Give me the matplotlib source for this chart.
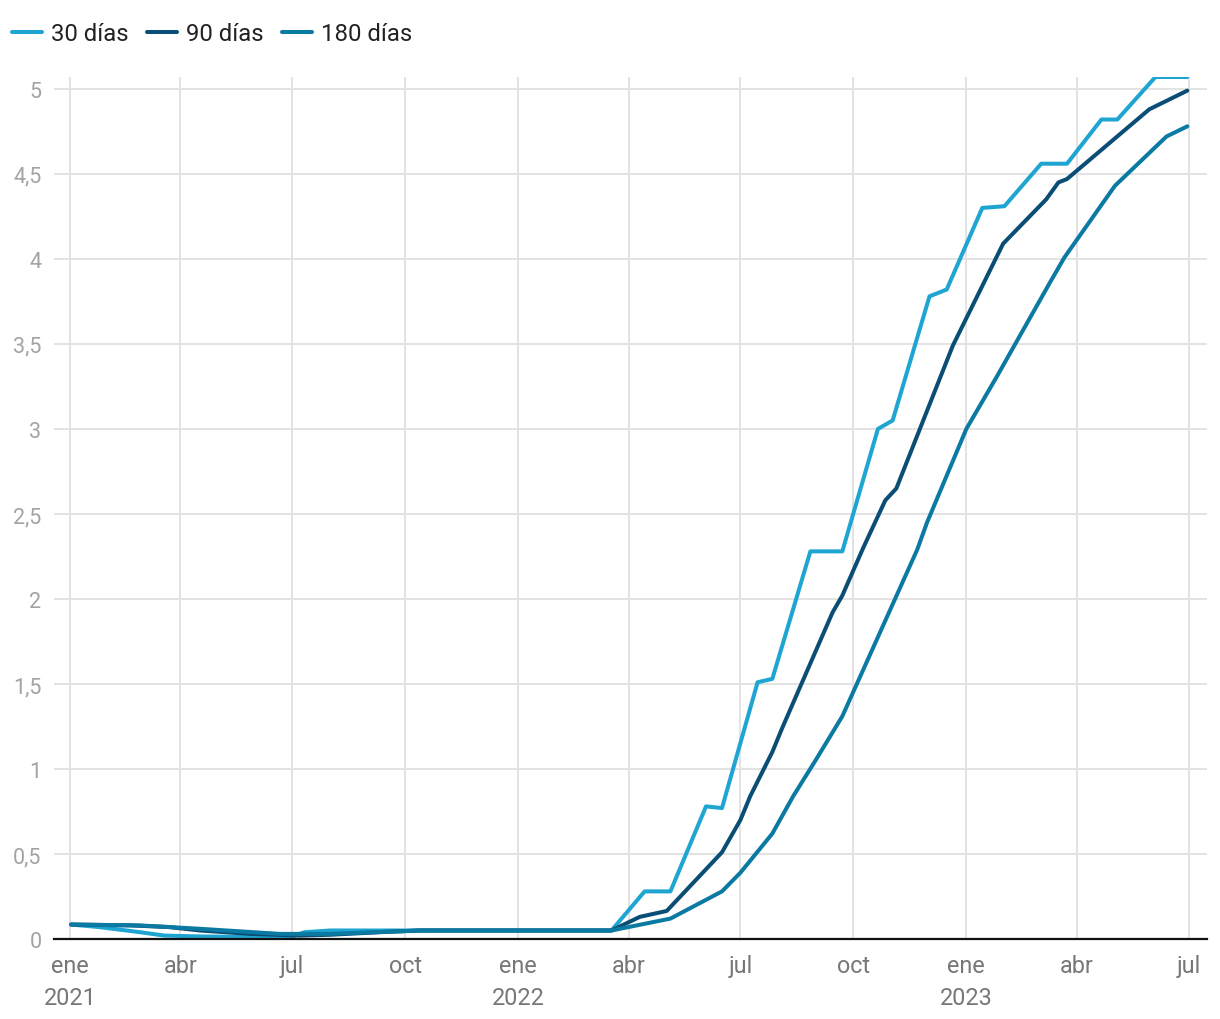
import pandas as pd
import matplotlib
matplotlib.use('Agg')
import matplotlib.pyplot as plt
from matplotlib.ticker import FuncFormatter

plt.rcParams['font.family'] = ['Roboto', 'DejaVu Sans']

# knots (date, %)
d30 = ['2021-01-02', '2021-01-25', '2021-02-27', '2021-03-19', '2021-04-17', '2021-06-29',
       '2021-07-11', '2021-08-01', '2022-03-18', '2022-04-14', '2022-05-05', '2022-06-03',
       '2022-06-16', '2022-07-15', '2022-07-27', '2022-08-27', '2022-09-22', '2022-10-21',
       '2022-11-02', '2022-12-02', '2022-12-16', '2023-01-14', '2023-02-01', '2023-03-03',
       '2023-03-24', '2023-04-21', '2023-05-04', '2023-06-04', '2023-06-30']
v30 = [0.085, 0.07, 0.04, 0.02, 0.015, 0.01,
       0.04, 0.05, 0.05, 0.28, 0.28, 0.78,
       0.77, 1.51, 1.53, 2.28, 2.28, 3.0,
       3.05, 3.78, 3.82, 4.30, 4.31, 4.56,
       4.56, 4.82, 4.82, 5.07, 5.07]

d90 = ['2021-01-02', '2021-02-19', '2021-03-23', '2021-04-17', '2021-05-28', '2021-07-07',
       '2021-08-01', '2021-09-10', '2021-10-13', '2022-03-18', '2022-04-10', '2022-05-02',
       '2022-06-16', '2022-07-01', '2022-07-09', '2022-07-27', '2022-08-04', '2022-09-14',
       '2022-09-22', '2022-10-09', '2022-10-27', '2022-11-05', '2022-12-21', '2023-01-31',
       '2023-03-07', '2023-03-17', '2023-03-24', '2023-05-30', '2023-06-30']
v90 = [0.085, 0.08, 0.07, 0.05, 0.03, 0.02,
       0.025, 0.04, 0.05, 0.05, 0.13, 0.165,
       0.51, 0.70, 0.84, 1.10, 1.24, 1.92,
       2.02, 2.30, 2.58, 2.65, 3.49, 4.09,
       4.35, 4.45, 4.47, 4.88, 4.99]

d180 = ['2021-01-02', '2021-02-27', '2021-04-17', '2021-06-21', '2021-08-01', '2021-10-13',
        '2022-03-18', '2022-05-05', '2022-06-16', '2022-07-01', '2022-07-27', '2022-08-13',
        '2022-09-01', '2022-09-22', '2022-11-22', '2022-11-30', '2023-01-01', '2023-01-26',
        '2023-03-10', '2023-03-22', '2023-05-02', '2023-06-13', '2023-06-30']
v180 = [0.085, 0.08, 0.06, 0.03, 0.03, 0.05,
        0.05, 0.12, 0.28, 0.39, 0.62, 0.84,
        1.06, 1.31, 2.29, 2.45, 3.0, 3.31,
        3.86, 4.01, 4.43, 4.72, 4.78]

tick_dates = ['2021-01-01', '2021-04-01', '2021-07-01', '2021-10-01', '2022-01-01', '2022-04-01',
              '2022-07-01', '2022-10-01', '2023-01-01', '2023-04-01', '2023-07-01']
tick_labels = ['ene\n2021', 'abr', 'jul', 'oct', 'ene\n2022', 'abr',
               'jul', 'oct', 'ene\n2023', 'abr', 'jul']

series = [('30 días', d30, v30, '#1ea5d2'),
          ('90 días', d90, v90, '#0a4e75'),
          ('180 días', d180, v180, '#0b7aa3')]

fig = plt.figure(figsize=(12.2, 10.2), dpi=100)
ax = fig.add_axes([54 / 1220, 80 / 1020, (1207 - 54) / 1220, (940 - 78) / 1020])

for name, d, v, c in series:
    ax.plot(pd.to_datetime(d), v, color=c, lw=2.9, label=name,
            solid_capstyle='round', solid_joinstyle='round')

ax.set_ylim(0, 5.07)
ax.set_xlim(pd.Timestamp('2020-12-19'), pd.Timestamp('2023-07-16'))
ax.set_yticks([0, 0.5, 1, 1.5, 2, 2.5, 3, 3.5, 4, 4.5, 5])
ax.yaxis.set_major_formatter(FuncFormatter(lambda y, p: ('%g' % y).replace('.', ',')))
ax.set_xticks(pd.to_datetime(tick_dates))
ax.set_xticklabels(tick_labels)

ax.grid(True, color='#e3e3e3', lw=1.4)
ax.set_axisbelow(True)
for s in ['top', 'right', 'left']:
    ax.spines[s].set_visible(False)
ax.spines['bottom'].set_color('#111111')
ax.spines['bottom'].set_linewidth(1.6)
ax.spines['bottom'].set_zorder(5)

ax.tick_params(axis='y', length=0, pad=9, labelsize=15.5, labelcolor='#a3a3a3')
ax.tick_params(axis='x', length=0, pad=11, labelsize=16.8, labelcolor='#777777')
for t in ax.get_xticklabels():
    t.set_linespacing(1.5)

fig.legend(loc='upper left', bbox_to_anchor=(12 / 1220, 1 - 23 / 1020), ncol=3, frameon=False,
           fontsize=17.2, handlelength=1.25, handletextpad=0.4, columnspacing=0.75,
           labelcolor='#222222', borderaxespad=0, borderpad=0)

fig.savefig('out.png', dpi=100)
